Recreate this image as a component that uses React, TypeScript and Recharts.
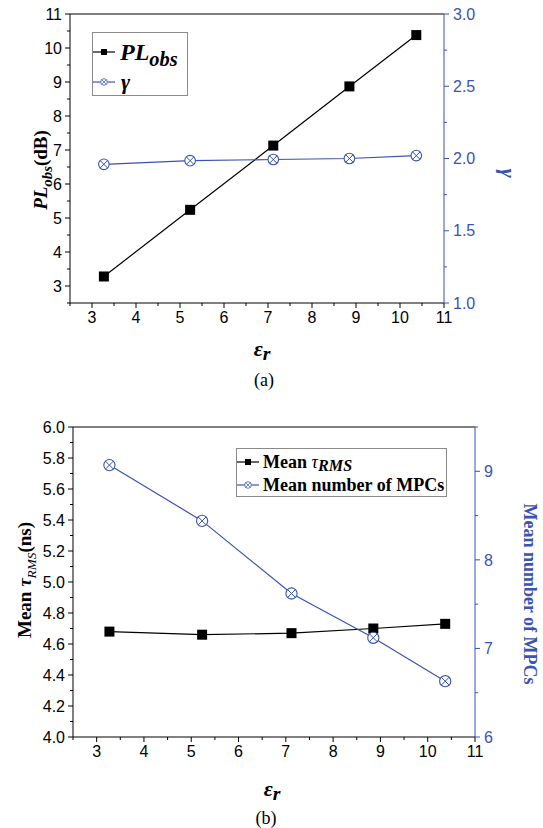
import React from "react";
import { Legend, Line, LineChart, XAxis, YAxis } from "recharts";

// relative permittivity of the tested materials
const epsR = [3.27, 5.23, 7.12, 8.85, 10.37];
// (a)
const plObs = [3.28, 5.24, 7.13, 8.87, 10.38];
const gamma = [1.96, 1.985, 1.993, 2.0, 2.02];
// (b)
const tauRms = [4.68, 4.66, 4.67, 4.7, 4.73];
const mpcCount = [9.07, 8.44, 7.62, 7.12, 6.63];

const xTicks = [2.5, 3, 3.5, 4, 4.5, 5, 5.5, 6, 6.5, 7, 7.5, 8, 8.5, 9, 9.5, 10, 10.5, 11];
const xMajor = [3, 4, 5, 6, 7, 8, 9, 10, 11];
const plTicks = [2.5, 3, 3.5, 4, 4.5, 5, 5.5, 6, 6.5, 7, 7.5, 8, 8.5, 9, 9.5, 10, 10.5, 11];
const plMajor = [3, 4, 5, 6, 7, 8, 9, 10, 11];
const gammaTicks = [1, 1.25, 1.5, 1.75, 2, 2.25, 2.5, 2.75, 3];
const gammaMajor = [1, 1.5, 2, 2.5, 3];
const tauTicks = [4, 4.1, 4.2, 4.3, 4.4, 4.5, 4.6, 4.7, 4.8, 4.9, 5, 5.1, 5.2, 5.3, 5.4, 5.5, 5.6, 5.7, 5.8, 5.9, 6];
const tauMajor = [4, 4.2, 4.4, 4.6, 4.8, 5, 5.2, 5.4, 5.6, 5.8, 6];
const mpcTicks = [6, 6.5, 7, 7.5, 8, 8.5, 9, 9.5];
const mpcMajor = [6, 7, 8, 9];

const dataA = epsR.map((er, i) => ({ er, pl: plObs[i], g: gamma[i] }));
const dataB = epsR.map((er, i) => ({ er, tau: tauRms[i], mpc: mpcCount[i] }));

const BLUE = "#3a52b4";
const SANS = "'Liberation Sans', Arial, sans-serif";
const SERIF = "'Liberation Serif', 'Times New Roman', serif";

function makeTick(side: "bottom" | "left" | "right", majors: number[], fmt: (v: number) => string, color: string) {
  return (props: any) => {
    const { x, y, payload } = props;
    const v = payload.value;
    const major = majors.some((m) => Math.abs(m - v) < 1e-6);
    const len = major ? 5 : 3;
    const txt = { fontFamily: SANS, fontSize: 16, fill: color };
    if (side === "bottom") {
      return (
        <g>
          <line x1={x} x2={x} y1={y} y2={y + len} stroke={color} />
          {major && (
            <text x={x} y={y + 9} dy="0.71em" textAnchor="middle" {...txt}>
              {fmt(v)}
            </text>
          )}
        </g>
      );
    }
    if (side === "left") {
      return (
        <g>
          <line x1={x} x2={x - len} y1={y} y2={y} stroke={color} />
          {major && (
            <text x={x - 8} y={y} dy="0.355em" textAnchor="end" {...txt}>
              {fmt(v)}
            </text>
          )}
        </g>
      );
    }
    return (
      <g>
        <line x1={x} x2={x + len} y1={y} y2={y} stroke={color} />
        {major && (
          <text x={x + 9} y={y} dy="0.355em" textAnchor="start" {...txt}>
            {fmt(v)}
          </text>
        )}
      </g>
    );
  };
}

const SquareDot = (props: any) => {
  const { cx, cy } = props;
  if (cx == null || cy == null) return <g />;
  return <rect x={cx - 5} y={cy - 5} width={10} height={10} fill="#000" />;
};

const makeCrossDot = (r: number) => (props: any) => {
  const { cx, cy } = props;
  if (cx == null || cy == null) return <g />;
  const d = r * 0.7;
  return (
    <g>
      <circle cx={cx} cy={cy} r={r} fill="#fff" stroke={BLUE} strokeWidth={1.1} />
      <line x1={cx - d} y1={cy - d} x2={cx + d} y2={cy + d} stroke={BLUE} strokeWidth={1} />
      <line x1={cx - d} y1={cy + d} x2={cx + d} y2={cy - d} stroke={BLUE} strokeWidth={1} />
    </g>
  );
};

function Swatch({ kind }: { kind: "square" | "cross" }) {
  const color = kind === "square" ? "#000" : BLUE;
  return (
    <svg width={22} height={12} style={{ display: "block", flex: "none" }}>
      <line x1={0} x2={22} y1={6} y2={6} stroke={color} strokeWidth={1.2} />
      {kind === "square" ? (
        <rect x={8} y={3} width={6} height={6} fill="#000" />
      ) : (
        <g>
          <circle cx={11} cy={6} r={3.3} fill="#fff" stroke={BLUE} strokeWidth={0.8} />
          <line x1={8.8} y1={3.8} x2={13.2} y2={8.2} stroke={BLUE} strokeWidth={0.7} />
          <line x1={8.8} y1={8.2} x2={13.2} y2={3.8} stroke={BLUE} strokeWidth={0.7} />
        </g>
      )}
    </svg>
  );
}

const sub = (t: string, size = "0.78em", drop = "0.35em"): React.ReactNode => (
  <span style={{ fontSize: size, position: "relative", top: drop }}>{t}</span>
);

const LegendA = () => (
  <div style={{ ...styles.legendBox, width: 96, height: 64 }}>
    <div style={{ ...styles.legendRow, height: 38, fontSize: 24, fontStyle: "italic" }}>
      <Swatch kind="square" />
      <span style={{ marginLeft: 5 }}>PL{sub("obs", "0.85em", "0.3em")}</span>
    </div>
    <div style={{ ...styles.legendRow, height: 22, fontSize: 22, fontStyle: "italic" }}>
      <Swatch kind="cross" />
      <span style={{ marginLeft: 6 }}>γ</span>
    </div>
  </div>
);

const LegendB = () => (
  <div style={{ ...styles.legendBox, width: 211, height: 49 }}>
    <div style={{ ...styles.legendRow, height: 24, fontSize: 18, paddingTop: 1 }}>
      <Swatch kind="square" />
      <span style={{ marginLeft: 4 }}>
        Mean <i style={{ fontWeight: 400 }}>τ</i>
        <i>{sub("RMS", "0.9em", "0.18em")}</i>
      </span>
    </div>
    <div style={{ ...styles.legendRow, height: 23, fontSize: 18 }}>
      <Swatch kind="cross" />
      <span style={{ marginLeft: 4 }}>Mean number of MPCs</span>
    </div>
  </div>
);

function Overlay({ x, y, rotate = 0, style, children }: any) {
  return (
    <div
      style={{
        position: "absolute",
        left: x,
        top: y,
        transform: `translate(-50%, -50%) rotate(${rotate}deg)`,
        whiteSpace: "nowrap",
        fontFamily: SERIF,
        fontWeight: 700,
        lineHeight: 1,
        ...style,
      }}
    >
      {children}
    </div>
  );
}

const EpsLabel = () => (
  <span style={{ fontStyle: "italic", fontSize: 22 }}>
    ε{sub("r", "0.9em", "0.2em")}
  </span>
);

export default function App() {
  return (
    <div style={styles.page}>
      <div style={{ position: "absolute", left: 0, top: 0 }}>
        <LineChart width={543} height={400} data={dataA} margin={{ top: 14, right: 54, bottom: 67, left: 30 }}>
          <XAxis
            dataKey="er"
            type="number"
            domain={[2.5, 11]}
            ticks={xTicks}
            interval={0}
            height={30}
            tickSize={0}
            tickMargin={0}
            tickLine={false}
            axisLine={{ stroke: "#000" }}
            tick={makeTick("bottom", xMajor, (v) => String(v), "#000")}
          />
          <XAxis
            xAxisId="top"
            orientation="top"
            type="number"
            domain={[2.5, 11]}
            ticks={xTicks}
            interval={0}
            height={1}
            mirror
            tickSize={3}
            tick={false}
            tickLine={{ stroke: "#000" }}
            axisLine={{ stroke: "#000" }}
          />
          <YAxis
            yAxisId="l"
            type="number"
            domain={[2.5, 11]}
            ticks={plTicks}
            interval={0}
            width={40}
            tickSize={0}
            tickMargin={0}
            tickLine={false}
            axisLine={{ stroke: "#000" }}
            tick={makeTick("left", plMajor, (v) => String(v), "#000")}
          />
          <YAxis
            yAxisId="r"
            orientation="right"
            type="number"
            domain={[1, 3]}
            ticks={gammaTicks}
            interval={0}
            width={45}
            tickSize={0}
            tickMargin={0}
            tickLine={false}
            axisLine={{ stroke: BLUE }}
            tick={makeTick("right", gammaMajor, (v) => v.toFixed(1), BLUE)}
          />
          <Legend
            layout="vertical"
            align="center"
            verticalAlign="middle"
            wrapperStyle={{ left: 92, top: 32, width: 96, height: 64 }}
            content={() => <LegendA />}
          />
          <Line
            yAxisId="l"
            dataKey="pl"
            stroke="#000"
            strokeWidth={1.2}
            dot={SquareDot}
            activeDot={false}
            isAnimationActive={false}
          />
          <Line
            yAxisId="r"
            dataKey="g"
            stroke={BLUE}
            strokeWidth={1.2}
            dot={makeCrossDot(5.3)}
            activeDot={false}
            isAnimationActive={false}
          />
        </LineChart>
      </div>

      <div style={{ position: "absolute", left: 0, top: 400 }}>
        <LineChart width={543} height={428} data={dataB} margin={{ top: 27, right: 38, bottom: 61, left: 33 }}>
          <XAxis
            dataKey="er"
            type="number"
            domain={[2.5, 11]}
            ticks={xTicks}
            interval={0}
            height={30}
            tickSize={0}
            tickMargin={0}
            tickLine={false}
            axisLine={{ stroke: "#000" }}
            tick={makeTick("bottom", xMajor, (v) => String(v), "#000")}
          />
          <XAxis
            xAxisId="top"
            orientation="top"
            type="number"
            domain={[2.5, 11]}
            ticks={xTicks}
            interval={0}
            height={1}
            mirror
            tickSize={3}
            tick={false}
            tickLine={{ stroke: "#000" }}
            axisLine={{ stroke: "#000" }}
          />
          <YAxis
            yAxisId="l"
            type="number"
            domain={[4, 6]}
            ticks={tauTicks}
            interval={0}
            width={40}
            tickSize={0}
            tickMargin={0}
            tickLine={false}
            axisLine={{ stroke: "#000" }}
            tick={makeTick("left", tauMajor, (v) => v.toFixed(1), "#000")}
          />
          <YAxis
            yAxisId="r"
            orientation="right"
            type="number"
            domain={[6, 9.5]}
            ticks={mpcTicks}
            interval={0}
            width={30}
            tickSize={0}
            tickMargin={0}
            tickLine={false}
            axisLine={{ stroke: BLUE }}
            tick={makeTick("right", mpcMajor, (v) => String(v), BLUE)}
          />
          <Legend
            layout="vertical"
            align="center"
            verticalAlign="middle"
            wrapperStyle={{ left: 236, top: 48, width: 211, height: 49 }}
            content={() => <LegendB />}
          />
          <Line
            yAxisId="l"
            dataKey="tau"
            stroke="#000"
            strokeWidth={1.2}
            dot={SquareDot}
            activeDot={false}
            isAnimationActive={false}
          />
          <Line
            yAxisId="r"
            dataKey="mpc"
            stroke={BLUE}
            strokeWidth={1.2}
            dot={makeCrossDot(5.6)}
            activeDot={false}
            isAnimationActive={false}
          />
        </LineChart>
      </div>

      {/* axis titles and panel captions */}
      <Overlay x={40} y={170} rotate={-90} style={{ fontSize: 19 }}>
        <i>PL</i>
        <i>{sub("obs")}</i>(dB)
      </Overlay>
      <Overlay x={508} y={173} rotate={90} style={{ fontSize: 22, color: BLUE, fontStyle: "italic" }}>
        γ
      </Overlay>
      <Overlay x={262} y={349}>
        <EpsLabel />
      </Overlay>
      <Overlay x={264} y={380} style={{ fontWeight: 400, fontSize: 18 }}>
        (a)
      </Overlay>

      <Overlay x={24} y={580} rotate={-90} style={{ fontSize: 19 }}>
        Mean <i>τ</i>
        <i style={{ fontWeight: 400 }}>{sub("RMS", "0.7em")}</i>(ns)
      </Overlay>
      <Overlay x={530} y={594} rotate={90} style={{ fontSize: 18, color: BLUE }}>
        Mean number of MPCs
      </Overlay>
      <Overlay x={272} y={789}>
        <EpsLabel />
      </Overlay>
      <Overlay x={266} y={818} style={{ fontWeight: 400, fontSize: 18 }}>
        (b)
      </Overlay>
    </div>
  );
}

const styles: Record<string, React.CSSProperties> = {
  page: {
    position: "absolute",
    left: 0,
    top: 0,
    width: 543,
    height: 828,
    background: "#fff",
    overflow: "hidden",
  },
  legendBox: {
    boxSizing: "border-box",
    border: "1px solid #8a8a8a",
    background: "#fff",
    fontFamily: SERIF,
    fontWeight: 700,
    color: "#000",
    display: "flex",
    flexDirection: "column",
  },
  legendRow: {
    display: "flex",
    alignItems: "center",
    lineHeight: 1,
    whiteSpace: "nowrap",
  },
};
